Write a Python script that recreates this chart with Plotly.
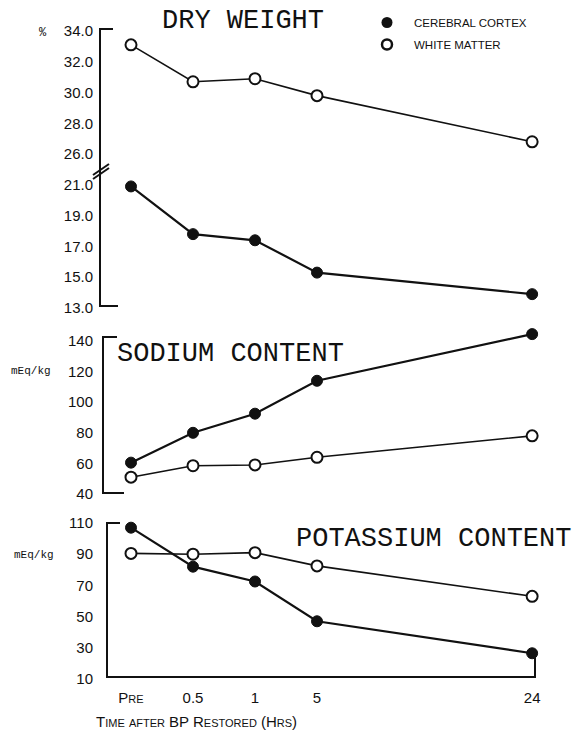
import plotly.graph_objects as go

W, H = 579, 733

# ---------------- data ----------------
time_labels = ["Pre", "0.5", "1", "5", "24"]
time_pos = [0, 1, 2, 3, 6.47]          # uneven horizontal spacing used in the original

dry_white = [33.1, 30.7, 30.9, 29.8, 26.8]
dry_cortex = [20.9, 17.8, 17.4, 15.3, 13.9]
na_cortex = [60.5, 80, 92.5, 114, 144.5]
na_white = [51, 58.5, 59, 64, 78]
k_cortex = [107, 82, 72.5, 47, 26.5]
k_white = [90.5, 90, 91, 82.5, 63]

dry_upper_ticks = [26, 28, 30, 32, 34]
dry_lower_ticks = [13, 15, 17, 19, 21]
na_ticks = [40, 60, 80, 100, 120, 140]
k_ticks = [10, 30, 50, 70, 90, 110]

# ---------------- helpers (window pixels -> paper) ----------------
def fx(px):
    return px / W

def fy(py):
    return 1 - py / H

X0, SX = 131, 62                       # x pixel of "Pre", pixels per step
XL, XR = 96, 565
xrange_ = [(XL - X0) / SX, (XR - X0) / SX]

BLACK = "#111111"
TICKFONT = dict(family="Liberation Sans, Arial, sans-serif", size=15, color=BLACK)
MONO = "Liberation Mono, Courier New, monospace"

fig = go.Figure()

def add_pair(xa, ya_white, ya_cortex, white, cortex):
    fig.add_trace(go.Scatter(
        x=time_pos, y=cortex, xaxis=xa, yaxis=ya_cortex, mode="lines+markers",
        line=dict(color=BLACK, width=2.2),
        marker=dict(size=11, color=BLACK, line=dict(color=BLACK, width=1)),
        showlegend=False, cliponaxis=False, hoverinfo="skip"))
    fig.add_trace(go.Scatter(
        x=time_pos, y=white, xaxis=xa, yaxis=ya_white, mode="lines+markers",
        line=dict(color=BLACK, width=1.6),
        marker=dict(size=11, color="white", line=dict(color=BLACK, width=2)),
        showlegend=False, cliponaxis=False, hoverinfo="skip"))

add_pair("x", "y", "y2", dry_white, dry_cortex)
add_pair("x2", "y3", "y3", na_white, na_cortex)
add_pair("x3", "y4", "y4", k_white, k_cortex)

# legend entries
fig.add_trace(go.Scatter(x=[None], y=[None], mode="markers", name="CEREBRAL CORTEX",
                         legendgroup="a", marker=dict(size=11, color=BLACK)))
fig.add_trace(go.Scatter(x=[None], y=[None], mode="markers", name="WHITE MATTER",
                         legendgroup="b",
                         marker=dict(size=10, color="white", line=dict(color=BLACK, width=2.5))))

hidden_x = dict(range=xrange_, domain=[fx(XL), fx(XR)], showline=False, showgrid=False,
                zeroline=False, showticklabels=False, ticks="", automargin=False)

def yax(rng, top_px, bot_px, ticks, fmt, **kw):
    d = dict(range=rng, domain=[fy(bot_px), fy(top_px)], showline=False, showgrid=False,
             zeroline=False, ticks="", tickvals=ticks, ticktext=[fmt.format(t) for t in ticks],
             tickfont=TICKFONT, ticklabelstandoff=2, automargin=False)
    d.update(kw)
    return d

fig.update_layout(
    xaxis=dict(hidden_x, anchor="y"),
    yaxis=yax([16, 34], 31, 308, dry_upper_ticks, "{:.1f}", anchor="x"),
    yaxis2=yax([13, 31], 31, 308, dry_lower_ticks, "{:.1f}", anchor="x", overlaying="y"),
    xaxis2=dict(hidden_x, anchor="y3"),
    yaxis3=yax([40, 148], 494 - 108 * 1.53, 494, na_ticks, "{:d}", anchor="x2"),
    xaxis3=dict(hidden_x, anchor="y4", showticklabels=True, tickvals=time_pos,
                ticktext=time_labels, ticklabelstandoff=8,
                tickfont=dict(TICKFONT, variant="small-caps")),
    yaxis4=yax([10, 110], 523, 679, k_ticks, "{:d}", anchor="x3"),
)

# ---------------- axis brackets (decoration) ----------------
def seg(x0, y0, x1, y1, w=2):
    fig.add_shape(type="line", xref="paper", yref="paper",
                  x0=fx(x0), y0=fy(y0), x1=fx(x1), y1=fy(y1),
                  line=dict(color=BLACK, width=w))

# panel 1
seg(100, 29, 100, 306); seg(99, 29, 113, 29); seg(99, 306, 118, 306)
seg(93, 175, 109, 164, 2); seg(93, 179, 109, 168, 2)
# panel 2
seg(103, 337, 103, 493); seg(102, 337, 117, 337); seg(102, 493, 124, 493)
# panel 3
seg(107, 523, 107, 677); seg(106, 523, 120, 523); seg(106, 677, 536, 677)
seg(535, 677, 535, 658)

# ---------------- text ----------------
def txt(s, x, y, size, family=MONO, xanchor="left", **fontkw):
    fig.add_annotation(text=s, x=fx(x), y=fy(y), xref="paper", yref="paper",
                       xanchor=xanchor, yanchor="middle", showarrow=False,
                       font=dict(family=family, size=size, color=BLACK, **fontkw))

txt("DRY WEIGHT", 160, 21, 27)
txt("SODIUM CONTENT", 115, 354, 27)
txt("POTASSIUM CONTENT", 294, 539, 27)
txt("%", 37, 33, 12)
txt("mEq/kg", 9, 371, 11)
txt("mEq/kg", 12, 555, 11)
txt("Time after BP Restored (Hrs)", 94, 721, 15,
    family="Liberation Sans, Arial, sans-serif", variant="small-caps")

fig.update_layout(
    template="none",
    width=W, height=H, margin=dict(l=0, r=0, t=0, b=0, autoexpand=False),
    paper_bgcolor="white", plot_bgcolor="white",
    legend=dict(x=fx(360), y=fy(8), xanchor="left", yanchor="top",
                font=dict(family="Liberation Sans, Arial, sans-serif", size=11.5, color=BLACK),
                bgcolor="rgba(0,0,0,0)", itemwidth=44, tracegroupgap=3),
)

fig.write_html("out.html", config={"displayModeBar": False},
               post_script="document.body.style.margin='0';")
